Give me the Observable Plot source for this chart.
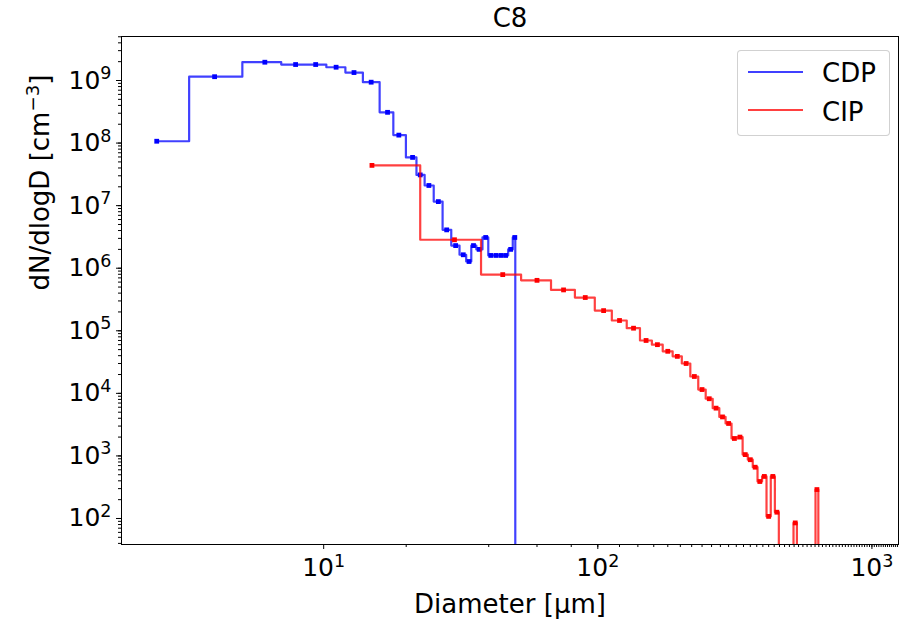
<!DOCTYPE html>
<html>
<head>
<meta charset="utf-8">
<script src="https://cdn.jsdelivr.net/npm/d3@7"></script>
<script src="https://cdn.jsdelivr.net/npm/@observablehq/plot@0.6"></script>
<style>
  html, body { margin: 0; padding: 0; background: white; }
  #wrap { position: relative; width: 911px; height: 619px; font-family: "DejaVu Sans", sans-serif; }
  #legend { position: absolute; left: 737px; top: 50px; width: 151px; height: 84px;
    border: 1px solid rgba(204,204,204,0.9); border-radius: 4px; background: white; font-size: 26px; }
  #legend .ln { position: absolute; left: 10px; width: 55px; height: 2px; }
  #legend .tx { position: absolute; left: 84px; line-height: 30px; white-space: nowrap; }
</style>
</head>
<body>
<div id="wrap"></div>
<script>
// ---- data ----
const title = "C8";
const xLabel = "Diameter [µm]";
const yLabel = "dN/dlogD [cm⁻³]";
const seriesNames = ["CDP", "CIP"];
const seriesColors = ["blue", "red"];

const cdpDiameter = [2.46, 4.0, 6.1, 7.9, 9.35, 11.1, 12.9, 14.9, 17.1, 18.8, 21.1, 22.5, 24.2, 26.2, 28.1, 30.3, 32.3, 33.9, 35.2, 36.9, 39.0, 40.7, 42.5, 44.3, 46.1, 48.1, 49.8, 50.2];
const cdpConc = [1.07e8, 1.15e9, 1.96e9, 1.8e9, 1.8e9, 1.63e9, 1.34e9, 9.4e8, 3.1e8, 1.34e8, 5.9e7, 3.1e7, 2.1e7, 1.16e7, 4.1e6, 2.3e6, 1.64e6, 1.28e6, 2.3e6, 2.0e6, 3.1e6, 1.6e6, 1.6e6, 1.6e6, 1.6e6, 2.0e6, 3.1e6, 0];

const cipDiameter = [15, 30, 45, 60, 75, 90, 105, 120, 135, 150, 165, 180, 195, 210, 225, 240, 255, 270, 285, 300, 315, 330, 345, 360, 375, 390, 405, 420, 435, 450, 465, 480, 495, 510, 525, 540, 555, 570, 585, 600, 615, 630, 645];
const cipConc = [4.4e7, 2.85e6, 7.9e5, 6.4e5, 4.5e5, 3.4e5, 2.1e5, 1.46e5, 1.1e5, 7.0e4, 6.0e4, 4.7e4, 3.9e4, 3.0e4, 1.86e4, 1.15e4, 8.2e3, 5.8e3, 4.2e3, 3.3e3, 1.9e3, 2.0e3, 1.05e3, 870, 660, 390, 470, 108, 470, 126, 0, 0, 0, 0, 85, 0, 0, 0, 0, 0, 0, 290, 0];

const xTicks = [10, 100, 1000];
const yTicks = [1e2, 1e3, 1e4, 1e5, 1e6, 1e7, 1e8, 1e9];
const xDomain = [1.83, 1250];
const yDomain = [38.4, 5.05e9];

// ---- helpers ----
const FLOOR = 1e-3; // zero values fall below the axis (log scale), like matplotlib clipping
// matplotlib "steps-mid": step edges at the arithmetic midpoints in data space
function stepsMid(xs, ys, name) {
  const pts = [];
  for (let i = 0; i < xs.length; i++) {
    const y = ys[i] > 0 ? ys[i] : FLOOR;
    const a = i === 0 ? xs[0] : (xs[i - 1] + xs[i]) / 2;
    const b = i === xs.length - 1 ? xs[i] : (xs[i] + xs[i + 1]) / 2;
    pts.push({D: a, N: y, s: name}, {D: b, N: y, s: name});
  }
  return pts;
}
function points(xs, ys, name) {
  return xs.map((d, i) => ({D: d, N: ys[i], s: name})).filter(p => p.N > 0);
}
const supMap = {"0":"⁰","1":"¹","2":"²","3":"³","4":"⁴","5":"⁵","6":"⁶","7":"⁷","8":"⁸","9":"⁹","-":"⁻"};
const pow10 = d => "10" + String(Math.round(Math.log10(d))).split("").map(c => supMap[c]).join("");

const cdpSteps = stepsMid(cdpDiameter, cdpConc, "CDP");
const cipSteps = stepsMid(cipDiameter, cipConc, "CIP");
const cdpPts = points(cdpDiameter, cdpConc, "CDP");
const cipPts = points(cipDiameter, cipConc, "CIP");

const chart = Plot.plot({
  width: 911,
  height: 619,
  marginLeft: 121,
  marginRight: 13,
  marginTop: 36,
  marginBottom: 75,
  style: {fontFamily: "DejaVu Sans", fontSize: "25px", background: "white", color: "black"},
  x: {type: "log", domain: xDomain, label: null},
  y: {type: "log", domain: yDomain, label: null},
  marks: [
    Plot.line(cdpSteps, {x: "D", y: "N", stroke: seriesColors[0], strokeWidth: 2.2, strokeOpacity: 0.75, clip: true}),
    Plot.dot(cdpPts, {x: "D", y: "N", symbol: "square", r: 2.7, fill: seriesColors[0], clip: true}),
    Plot.line(cipSteps, {x: "D", y: "N", stroke: seriesColors[1], strokeWidth: 2.2, strokeOpacity: 0.75, clip: true}),
    Plot.dot(cipPts, {x: "D", y: "N", symbol: "square", r: 2.7, fill: seriesColors[1], clip: true}),
    // minor ticks
    Plot.axisX({ticks: 60, tickSize: 3, tickFormat: () => "", label: null}),
    Plot.axisY({ticks: 60, tickSize: 3, tickFormat: () => "", label: null}),
    // major ticks
    Plot.axisX({ticks: xTicks, tickSize: 5, tickPadding: 9, tickFormat: pow10, label: null, fontSize: 25}),
    Plot.axisY({ticks: yTicks, tickSize: 5, tickPadding: 5, tickFormat: pow10, label: null, fontSize: 25}),
    Plot.frame({stroke: "black", strokeWidth: 1}),
    Plot.text([title], {frameAnchor: "top", lineAnchor: "middle", dy: -18, fontSize: 26}),
    Plot.text([xLabel], {frameAnchor: "bottom", lineAnchor: "middle", dy: 60, fontSize: 26}),
    Plot.text([yLabel], {frameAnchor: "left", lineAnchor: "middle", dx: -81, rotate: -90, fontSize: 26})
  ]
});

const wrap = document.getElementById("wrap");
wrap.appendChild(chart);

// render superscripts like matplotlib mathtext (smaller, raised)
const unsup = {"⁰":"0","¹":"1","²":"2","³":"3","⁴":"4","⁵":"5","⁶":"6","⁷":"7","⁸":"8","⁹":"9","⁻":"−"};
const NS = "http://www.w3.org/2000/svg";
chart.querySelectorAll("text").forEach(t => {
  const s = t.textContent;
  const m = s.match(/^(.*?)([⁰¹²³⁴⁵⁶⁷⁸⁹⁻]+)(.*)$/);
  if (!m) return;
  const fs = parseFloat(getComputedStyle(t).fontSize) || 25;
  const rise = fs * 0.38;
  t.textContent = "";
  t.appendChild(document.createTextNode(m[1]));
  const sup = document.createElementNS(NS, "tspan");
  sup.setAttribute("dy", -rise);
  sup.setAttribute("font-size", fs * 0.7);
  sup.textContent = m[2].split("").map(c => unsup[c]).join("");
  t.appendChild(sup);
  if (m[3]) {
    const rest = document.createElementNS(NS, "tspan");
    rest.setAttribute("dy", rise);
    rest.textContent = m[3];
    t.appendChild(rest);
  }
});

// legend (matplotlib-style box, upper right)
const legend = document.createElement("div");
legend.id = "legend";
const rows = [{y: 20, ty: 7}, {y: 58, ty: 46}];
seriesNames.forEach((name, i) => {
  const ln = document.createElement("div");
  ln.className = "ln";
  ln.style.top = rows[i].y + "px";
  ln.style.background = seriesColors[i];
  ln.style.opacity = 0.75;
  legend.appendChild(ln);
  const tx = document.createElement("div");
  tx.className = "tx";
  tx.style.top = rows[i].ty + "px";
  tx.textContent = name;
  legend.appendChild(tx);
});
wrap.appendChild(legend);
</script>
</body>
</html>
